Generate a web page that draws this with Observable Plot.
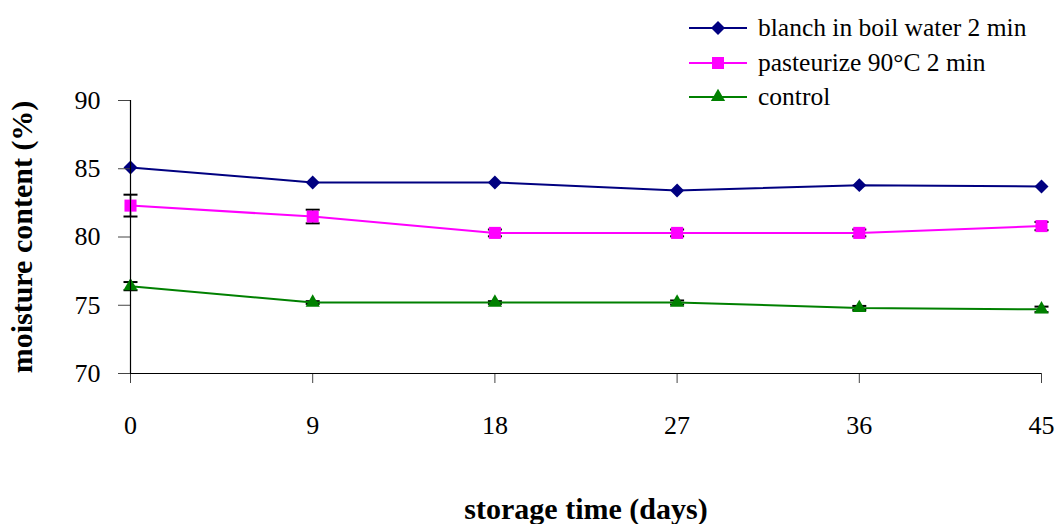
<!DOCTYPE html>
<html>
<head>
<meta charset="utf-8">
<script src="https://cdn.jsdelivr.net/npm/d3@7"></script>
<script src="https://cdn.jsdelivr.net/npm/@observablehq/plot@0.6"></script>
<style>
  html, body { margin: 0; padding: 0; background: #fff; }
  #wrap { position: relative; width: 1055px; height: 524px; }
  #wrap, #wrap * { font-family: "Liberation Serif", "Times New Roman", "DejaVu Serif", serif !important; }
  #legend { position: absolute; left: 689px; top: 11px; }
  .row { display: flex; align-items: center; height: 34.5px; }
  .row span { font-size: 25.5px; color: #000; margin-left: 11px; white-space: nowrap; }
</style>
</head>
<body>
<div id="wrap"><div id="legend"></div></div>
<script>
const days = [0, 9, 18, 27, 36, 45];
const seriesNames = ["blanch in boil water 2 min", "pasteurize 90°C 2 min", "control"];
const blanch = [85.1, 84.0, 84.0, 83.4, 83.8, 83.7];
const pasteurize = [82.3, 81.5, 80.3, 80.3, 80.3, 80.8];
const control = [76.4, 75.2, 75.2, 75.2, 74.8, 74.7];
const blanchErr = [0, 0, 0, 0, 0, 0];
const pasteurizeErr = [0.8, 0.5, 0.25, 0.25, 0.25, 0.3];
const controlErr = [0.3, 0.1, 0.1, 0.15, 0.15, 0.2];
const yTicks = [70, 75, 80, 85, 90];
const xLabel = "storage time (days)";
const yLabel = "moisture content (%)";

const styles = [
  {color: "#000080", symbol: "diamond2", r: 6.3},
  {color: "#FF00FF", symbol: "square", r: 6.8},
  {color: "#008000", symbol: "triangle", r: 5.3}
];
const values = [blanch, pasteurize, control];
const errs = [blanchErr, pasteurizeErr, controlErr];

const rows = [];
values.forEach((vals, s) => vals.forEach((v, i) => rows.push({series: s, day: days[i], value: v, err: errs[s][i]})));
const errRows = rows.filter(d => d.err > 0);

const cap = {draw(ctx) { ctx.moveTo(-7, 0); ctx.lineTo(7, 0); }};

const marks = [
  Plot.ruleX(errRows, {x: "day", y1: d => d.value - d.err, y2: d => d.value + d.err, stroke: "#000", strokeWidth: 1.5}),
  Plot.dot(errRows, {x: "day", y: d => d.value - d.err, symbol: cap, stroke: "#000", strokeWidth: 2, r: 3}),
  Plot.dot(errRows, {x: "day", y: d => d.value + d.err, symbol: cap, stroke: "#000", strokeWidth: 2, r: 3})
];
styles.forEach((st, s) => {
  const data = rows.filter(d => d.series === s);
  marks.push(Plot.line(data, {x: "day", y: "value", stroke: st.color, strokeWidth: 2}));
});
styles.forEach((st, s) => {
  const data = rows.filter(d => d.series === s);
  marks.push(Plot.dot(data, {x: "day", y: "value", symbol: st.symbol, fill: st.color, stroke: "none", r: st.r}));
});

marks.push(
  Plot.axisY({ticks: yTicks, tickSize: 12, tickPadding: 18, fontSize: 26, label: null, stroke: "#444"}),
  Plot.axisX({ticks: days, tickSize: 10, tickPadding: 32, fontSize: 26, label: null, stroke: "#444"}),
  Plot.ruleX([0], {stroke: "#000", strokeWidth: 1.2}),
  Plot.ruleY([70], {stroke: "#000", strokeWidth: 1.2}),
  Plot.text([xLabel], {text: d => d, frameAnchor: "bottom", textAnchor: "middle", dy: 145, fontSize: 30, fontWeight: "bold"}),
  Plot.text([yLabel], {text: d => d, frameAnchor: "left", textAnchor: "middle", dx: -108, rotate: -90, fontSize: 30, fontWeight: "bold"})
);

const chart = Plot.plot({
  width: 1055,
  height: 524,
  marginLeft: 130,
  marginRight: 14,
  marginTop: 100,
  marginBottom: 151,
  style: {fontFamily: "Liberation Serif", color: "#000", background: "#fff", overflow: "visible"},
  x: {domain: [0, 45]},
  y: {domain: [70, 90]},
  marks
});
document.getElementById("wrap").prepend(chart);

const legend = document.getElementById("legend");
styles.forEach((st, s) => {
  const row = document.createElement("div");
  row.className = "row";
  const svg = d3.create("svg").attr("width", 58).attr("height", 20);
  svg.append("line").attr("x1", 0).attr("x2", 58).attr("y1", 10).attr("y2", 10).attr("stroke", st.color).attr("stroke-width", 2);
  const symType = {diamond2: d3.symbolDiamond2, square: d3.symbolSquare, triangle: d3.symbolTriangle}[st.symbol];
  svg.append("path").attr("transform", "translate(29,10)").attr("d", d3.symbol(symType, Math.PI * st.r * st.r)()).attr("fill", st.color);
  row.appendChild(svg.node());
  const span = document.createElement("span");
  span.textContent = seriesNames[s];
  row.appendChild(span);
  legend.appendChild(row);
});
</script>
</body>
</html>
